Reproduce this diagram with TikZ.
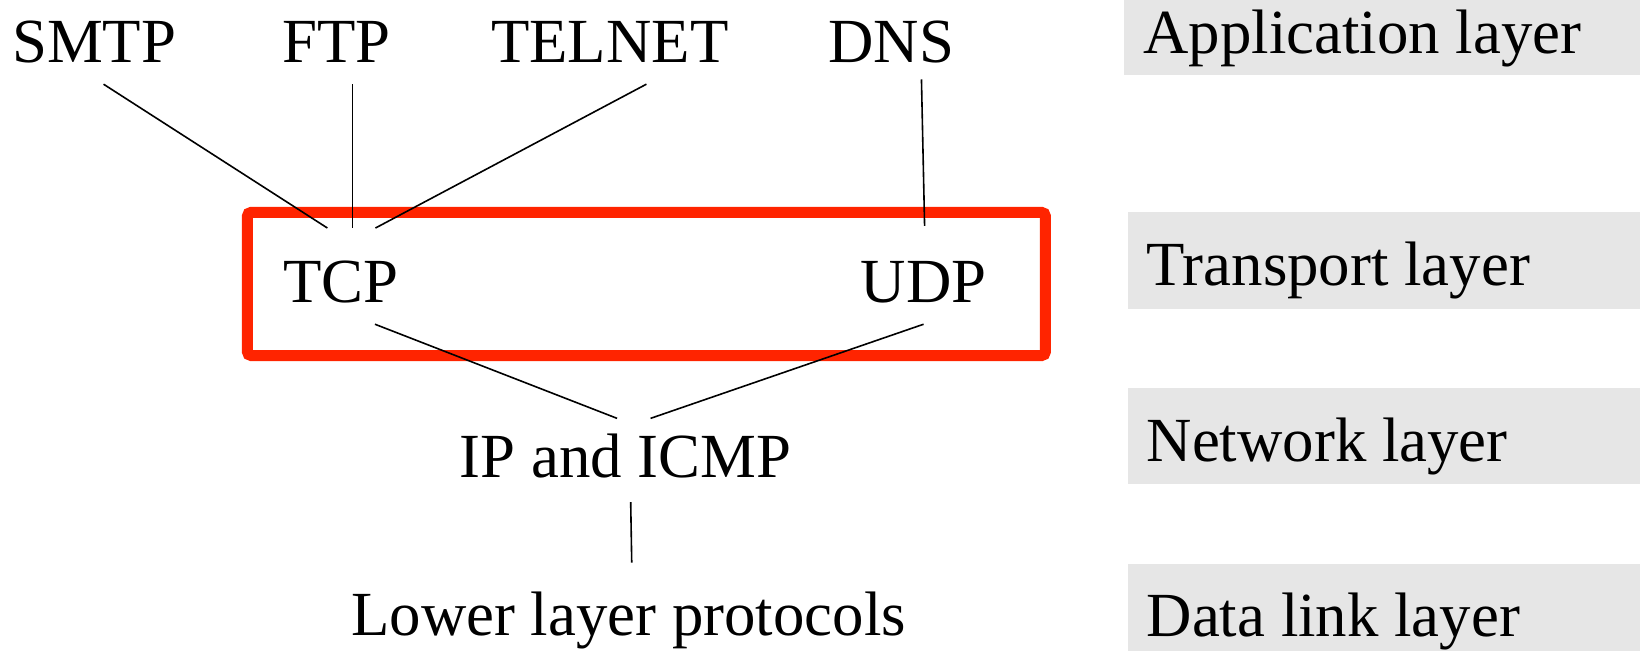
\documentclass[tikz,border=0pt]{standalone}
\usepackage{fontspec}
\setmainfont{Liberation Serif}
\definecolor{layergray}{RGB}{230,230,230}
\definecolor{boxred}{RGB}{255,36,0}
\tikzset{
  proto/.style={anchor=base, inner sep=0pt, font=\fontsize{31.4}{36}\selectfont},
  layertxt/.style={anchor=base west, inner sep=0pt, font=\fontsize{31.4}{36}\selectfont},
  band/.style={fill=layergray, draw=none},
  link/.style={draw=black, line width=0.8pt},
  redbox/.style={draw=boxred, line width=5.5pt, rounded corners=2pt}
}
\begin{document}
\begin{tikzpicture}[x=0.5229pt, y=-0.5229pt]
\useasboundingbox (0,0) rectangle (1568,622);
% layer bands
\fill[band] (1075,0) rectangle (1568,72);
\fill[band] (1078,203) rectangle (1568,295);
\fill[band] (1078,371) rectangle (1568,463);
\fill[band] (1078,539) rectangle (1568,622);
\node[layertxt] (lapp) at (1093,51) {Application layer};
\node[layertxt] (ltra) at (1096,273) {Transport layer};
\node[layertxt] (lnet) at (1096,441) {Network layer};
\node[layertxt] (ldat) at (1096,609) {Data link layer};
% transport box
\draw[redbox] (236.5,203) rectangle (999.5,340);
% protocol nodes
\node[proto] (smtp) at (90,60) {SMTP};
\node[proto] (ftp) at (322,60) {FTP};
\node[proto] (telnet) at (583,60) {TELNET};
\node[proto] (dns) at (852,60) {DNS};
\node[proto] (tcp) at (326,289) {TCP};
\node[proto] (udp) at (883,289) {UDP};
\node[proto] (ip) at (598,457) {IP and ICMP};
\node[proto] (lower) at (601,608) {Lower layer protocols};
% connector end points
\coordinate (smtp-s) at (99,80.5);
\coordinate (ftp-s) at (337,80.5);
\coordinate (telnet-s) at (618,80.5);
\coordinate (dns-s) at (881,76);
\coordinate (tcp-n1) at (313,218);
\coordinate (tcp-n2) at (337,218);
\coordinate (tcp-n3) at (359,218);
\coordinate (udp-n) at (884,216);
\coordinate (tcp-s) at (358.5,310);
\coordinate (udp-s) at (883,310);
\coordinate (ip-n1) at (590,400);
\coordinate (ip-n2) at (622,400);
\coordinate (ip-s) at (603,480);
\coordinate (lower-n) at (604,538);
% connectors
\draw[link] (smtp-s) -- (tcp-n1);
\draw[link] (ftp-s) -- (tcp-n2);
\draw[link] (telnet-s) -- (tcp-n3);
\draw[link] (dns-s) -- (udp-n);
\draw[link] (tcp-s) -- (ip-n1);
\draw[link] (udp-s) -- (ip-n2);
\draw[link] (ip-s) -- (lower-n);
\end{tikzpicture}
\end{document}
